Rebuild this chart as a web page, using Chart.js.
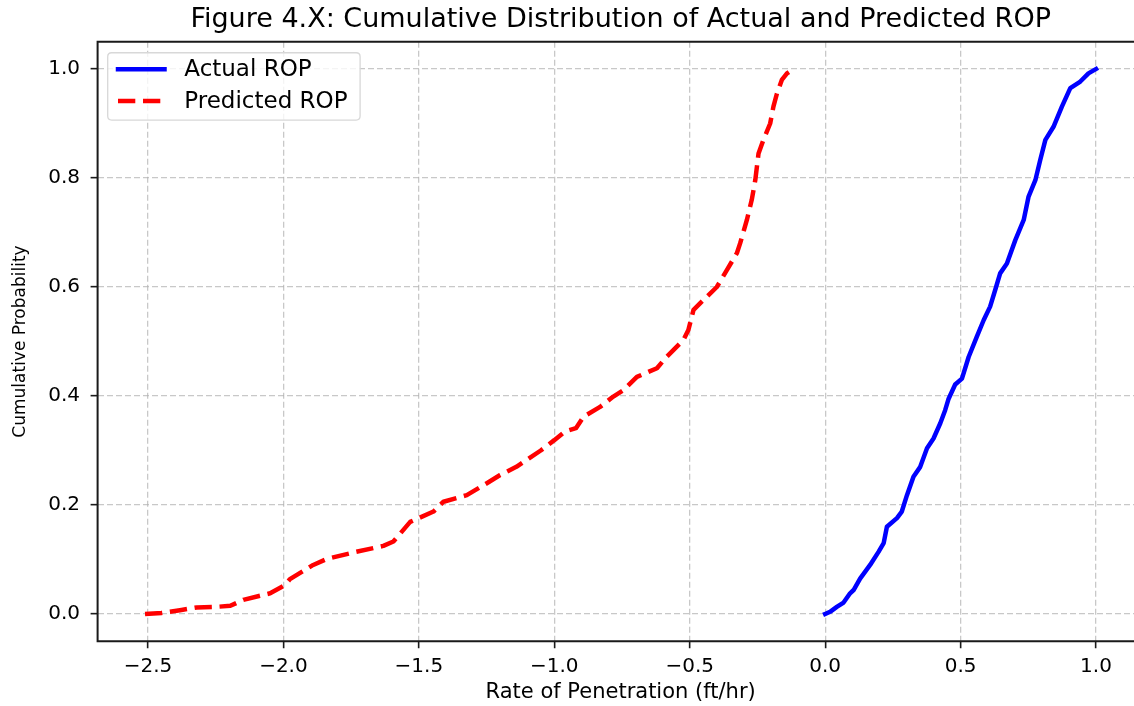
<!DOCTYPE html>
<html>
<head>
<meta charset="utf-8">
<script src="https://cdn.jsdelivr.net/npm/chart.js@4.4.0/dist/chart.umd.min.js"></script>
<style>
  html, body { margin: 0; padding: 0; background: #fff; overflow: hidden; }
  #wrap { width: 1150px; height: 706px; }
</style>
</head>
<body>
<div id="wrap"><canvas id="c" width="1150" height="706"></canvas></div>
<script>
// ---- data ----
const chartTitle = 'Figure 4.X: Cumulative Distribution of Actual and Predicted ROP';
const xAxisLabel = 'Rate of Penetration (ft/hr)';
const yAxisLabel = 'Cumulative Probability';
const seriesNames = ['Actual ROP', 'Predicted ROP'];

const xTickValues = [-2.5, -2.0, -1.5, -1.0, -0.5, 0.0, 0.5, 1.0];
const yTickValues = [0.0, 0.2, 0.4, 0.6, 0.8, 1.0];

const actualX = [0.000, 0.018, 0.043, 0.068, 0.092, 0.105, 0.129, 0.166, 0.197, 0.216, 0.228, 0.265, 0.283, 0.302, 0.326, 0.351, 0.376, 0.400, 0.425, 0.443, 0.455, 0.480, 0.505, 0.530, 0.560, 0.585, 0.609, 0.628, 0.646, 0.671, 0.702, 0.733, 0.751, 0.776, 0.794, 0.813, 0.843, 0.874, 0.905, 0.942, 0.972, 1.000];
const actualY = [0.000, 0.004, 0.013, 0.021, 0.038, 0.044, 0.065, 0.090, 0.114, 0.130, 0.160, 0.176, 0.188, 0.218, 0.252, 0.270, 0.304, 0.322, 0.350, 0.374, 0.394, 0.421, 0.432, 0.472, 0.509, 0.539, 0.564, 0.595, 0.625, 0.643, 0.686, 0.723, 0.766, 0.796, 0.833, 0.870, 0.894, 0.931, 0.965, 0.977, 0.992, 1.000];

const predictedX = [-2.511, -2.450, -2.382, -2.320, -2.250, -2.196, -2.148, -2.049, -1.994, -1.976, -1.890, -1.840, -1.741, -1.631, -1.594, -1.532, -1.446, -1.409, -1.323, -1.249, -1.200, -1.140, -1.050, -1.000, -0.960, -0.920, -0.892, -0.831, -0.782, -0.744, -0.695, -0.621, -0.585, -0.523, -0.505, -0.486, -0.462, -0.400, -0.363, -0.326, -0.314, -0.289, -0.271, -0.258, -0.246, -0.228, -0.203, -0.191, -0.178, -0.160, -0.141, -0.117];
const predictedY = [0.000, 0.002, 0.007, 0.012, 0.013, 0.015, 0.026, 0.038, 0.053, 0.064, 0.090, 0.101, 0.113, 0.125, 0.133, 0.169, 0.188, 0.206, 0.218, 0.240, 0.255, 0.270, 0.300, 0.319, 0.335, 0.341, 0.362, 0.380, 0.399, 0.411, 0.435, 0.451, 0.472, 0.503, 0.521, 0.558, 0.570, 0.600, 0.631, 0.662, 0.680, 0.723, 0.760, 0.796, 0.845, 0.870, 0.900, 0.931, 0.955, 0.980, 0.992, 1.000];

// ---- build ----
const toPoints = (xs, ys) => xs.map((x, i) => ({ x: x, y: ys[i] }));
const fmt = v => v.toFixed(1).replace('-', '\u2212');

const FONT = "'DejaVu Sans', sans-serif";
Chart.defaults.font.family = FONT;
Chart.defaults.color = '#000';

const spinesPlugin = {
  id: 'spines',
  afterDatasetsDraw(chart) {
    const { ctx, chartArea: a } = chart;
    ctx.save();
    ctx.strokeStyle = '#1a1a1a';
    ctx.lineWidth = 2;
    ctx.setLineDash([]);
    ctx.beginPath();
    ctx.moveTo(a.left, a.bottom);
    ctx.lineTo(a.left, a.top);
    ctx.lineTo(a.right, a.top);
    ctx.lineTo(a.right, a.bottom);
    ctx.closePath();
    ctx.stroke();
    ctx.restore();
  }
};

const legendPlugin = {
  id: 'mplLegend',
  afterDraw(chart) {
    const { ctx, chartArea: a } = chart;
    const x0 = a.left + 10.1, y0 = a.top + 11, w = 252.4, h = 67.3, r = 4;
    ctx.save();
    ctx.beginPath();
    ctx.moveTo(x0 + r, y0);
    ctx.lineTo(x0 + w - r, y0);
    ctx.quadraticCurveTo(x0 + w, y0, x0 + w, y0 + r);
    ctx.lineTo(x0 + w, y0 + h - r);
    ctx.quadraticCurveTo(x0 + w, y0 + h, x0 + w - r, y0 + h);
    ctx.lineTo(x0 + r, y0 + h);
    ctx.quadraticCurveTo(x0, y0 + h, x0, y0 + h - r);
    ctx.lineTo(x0, y0 + r);
    ctx.quadraticCurveTo(x0, y0, x0 + r, y0);
    ctx.closePath();
    ctx.fillStyle = 'rgba(255,255,255,0.8)';
    ctx.fill();
    ctx.strokeStyle = '#d8d8d8';
    ctx.lineWidth = 1.3;
    ctx.stroke();
    chart.data.datasets.forEach((ds, i) => {
      const y = y0 + 16.6 + i * 31.7;
      ctx.beginPath();
      ctx.strokeStyle = ds.borderColor;
      ctx.lineWidth = ds.borderWidth;
      ctx.setLineDash(ds.borderDash || []);
      ctx.lineCap = ds.borderDash ? 'butt' : 'square';
      ctx.moveTo(x0 + 10.3, y);
      ctx.lineTo(x0 + 56.8, y);
      ctx.stroke();
      ctx.setLineDash([]);
      ctx.fillStyle = '#000';
      ctx.font = "23px " + FONT;
      ctx.textBaseline = 'middle';
      ctx.textAlign = 'left';
      ctx.fillText(ds.label, x0 + 76.6, y + 1);
    });
    ctx.restore();
  }
};

new Chart(document.getElementById('c'), {
  type: 'line',
  data: {
    datasets: [
      {
        label: seriesNames[0],
        data: toPoints(actualX, actualY),
        borderColor: '#0000ff',
        borderWidth: 4.5,
        pointRadius: 0,
        tension: 0,
        fill: false,
        borderJoinStyle: 'round',
        borderCapStyle: 'square'
      },
      {
        label: seriesNames[1],
        data: toPoints(predictedX, predictedY),
        borderColor: '#ff0000',
        borderWidth: 4.5,
        borderDash: [17.3, 7.7],
        pointRadius: 0,
        tension: 0,
        fill: false,
        borderJoinStyle: 'round',
        borderCapStyle: 'butt'
      }
    ]
  },
  options: {
    responsive: false,
    animation: false,
    devicePixelRatio: 1,
    events: [],
    layout: { padding: { left: 0, right: 6.3, top: 0, bottom: 0 } },
    plugins: {
      legend: { display: false },
      tooltip: { enabled: false },
      title: {
        display: true,
        text: chartTitle,
        fullSize: false,
        color: '#000',
        font: { family: FONT, size: 27, weight: 'normal', lineHeight: 1.2 },
        padding: { top: 3.8, bottom: 5.55 }
      }
    },
    scales: {
      x: {
        type: 'linear',
        min: -2.686,
        max: 1.176,
        afterBuildTicks: s => { s.ticks = xTickValues.map(v => ({ value: v })); },
        afterFit: s => { s.height = 64.75; },
        ticks: {
          callback: v => fmt(v),
          font: { family: FONT, size: 20 },
          color: '#000',
          padding: 6.25,
          maxRotation: 0,
          autoSkip: false
        },
        grid: {
          color: 'rgba(176,176,176,0.7)',
          lineWidth: 1.3,
          tickLength: 7,
          tickColor: '#1a1a1a',
          tickWidth: 1.6
        },
        border: { display: false, dash: [6, 3] },
        title: {
          display: true,
          text: xAxisLabel,
          color: '#000',
          font: { family: FONT, size: 21 },
          padding: { top: 0, bottom: 0.9 }
        }
      },
      y: {
        type: 'linear',
        min: -0.05,
        max: 1.05,
        afterBuildTicks: s => { s.ticks = yTickValues.map(v => ({ value: v })); },
        afterFit: s => { s.width = 97.6; },
        ticks: {
          callback: v => fmt(v),
          font: { family: FONT, size: 20 },
          color: '#000',
          padding: 10.6,
          autoSkip: false
        },
        grid: {
          color: 'rgba(176,176,176,0.7)',
          lineWidth: 1.3,
          tickLength: 7,
          tickColor: '#1a1a1a',
          tickWidth: 1.6
        },
        border: { display: false, dash: [6, 3] },
        title: {
          display: true,
          text: yAxisLabel,
          color: '#000',
          font: { family: FONT, size: 17 },
          padding: { top: 10.8, bottom: 0 }
        }
      }
    }
  },
  plugins: [spinesPlugin, legendPlugin]
});
</script>
</body>
</html>
